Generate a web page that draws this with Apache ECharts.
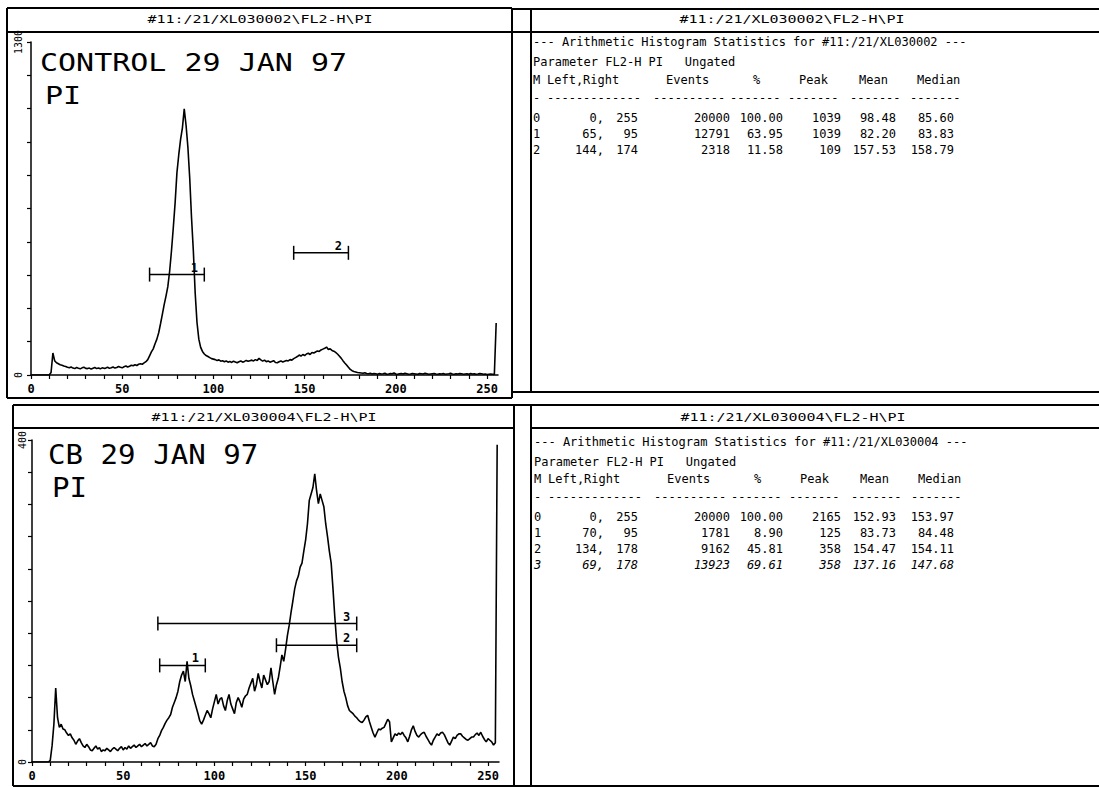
<!DOCTYPE html>
<html><head><meta charset="utf-8">
<script src="https://cdn.jsdelivr.net/npm/echarts@6/dist/echarts.min.js"></script>
<style>html,body{margin:0;padding:0;background:#fff}#c{width:1099px;height:787px}</style>
</head><body><div id="c"></div>
<script>
// ---------------- DATA ----------------
const panelTitles = ['#11:/21/XL030002\\FL2-H\\PI', '#11:/21/XL030004\\FL2-H\\PI'];
const sampleLabels = ['CONTROL 29 JAN 97', 'CB 29 JAN 97'];
const parameterLabel = 'PI';
const statsHeadings = [
  '--- Arithmetic Histogram Statistics for #11:/21/XL030002 ---',
  '--- Arithmetic Histogram Statistics for #11:/21/XL030004 ---'
];
const parameterLine = 'Parameter FL2-H PI   Ungated';
const statColumns = ['M', 'Left,Right', 'Events', '%', 'Peak', 'Mean', 'Median'];
const xTickLabels = [0, 50, 100, 150, 200, 250];
const controlYMax = 1300;
const cbYMax = 400;

// channel 0..255 counts
const controlCounts = [
  0,0,0,0,0,0,0,0,0,0,0,
  10,86,55,48,44,40,38,35,33,30,
  28,31,27,25,29,26,24,28,30,26,
  25,27,23,26,29,25,27,24,28,26,
  27,30,26,28,31,27,29,33,30,28,
  32,35,31,34,38,36,40,37,42,44,
  42,47,52,60,
  75,90,102,122,140,165,200,237,275,308,
  345,405,484,575,672,790,860,920,965,1039,
  975,890,770,614,484,320,205,140,108,92,
  82,76,72,68,64,62,
  60,57,59,54,56,52,55,50,53,49,54,51,48,52,55,50,53,57,54,56,
  58,55,60,57,65,59,54,58,52,55,50,53,56,49,48,52,55,51,54,57,
  55,60,58,64,68,72,78,74,80,76,
  82,85,80,88,86,90,94,92,98,101,
  104,109,100,102,96,93,88,82,74,66,
  56,47,39,30,22,17,14,12,10,9,
  8,7,9,6,5,7,4,6,5,3,
  6,4,5,7,3,4,6,5,8,4,
  3,5,6,4,7,5,3,4,6,5,
  4,3,6,5,4,7,5,3,4,5,
  6,4,3,5,4,6,3,4,5,7,
  4,3,5,4,6,5,3,4,5,3,
  6,4,5,3,4,6,5,3,4,2,
  3,4,3,2,
  203
];
const cbCounts = [
  0,0,0,0,0,0,0,0,0,0,
  2,20,47,92,55,43,47,41,40,36,33,
  35,30,27,22,26,29,24,20,18,22,
  19,15,14,17,20,16,18,13,15,14,
  17,15,13,16,18,16,14,17,19,15,
  18,16,20,17,19,21,18,20,22,19,
  21,23,20,22,24,20,19,22,
  29,33,39,43,48,52,55,59,68,74,80,88,
  100,108,113,100,125,104,95,84,76,68,
  60,51,47,52,58,64,60,55,66,75,
  84,72,78,80,70,64,76,84,72,66,
  60,74,80,75,68,78,82,84,92,98,
  104,88,96,110,100,92,108,102,96,100,
  117,100,84,96,104,118,133,125,140,157,
  170,186,200,215,225,231,242,247,262,276,
  296,325,333,341,358,337,321,333,325,317,
  296,280,262,247,215,180,150,130,117,100,
  88,80,70,64,62,60,57,55,52,50,
  49,52,56,58,50,43,36,31,36,41,
  40,42,43,48,53,50,25,30,35,33,
  36,34,37,33,30,25,32,40,45,38,
  33,31,34,36,37,32,28,24,21,27,
  31,35,33,36,37,34,29,24,21,26,
  31,29,33,35,35,32,30,28,27,29,
  31,31,34,36,33,37,32,28,25,29,
  27,25,21,24,
  394
];

// statistics tables: M, Left, Right, Events, %, Peak, Mean, Median
const controlStats = [
  ['0', '0', '255', '20000', '100.00', '1039', '98.48', '85.60'],
  ['1', '65', '95', '12791', '63.95', '1039', '82.20', '83.83'],
  ['2', '144', '174', '2318', '11.58', '109', '157.53', '158.79']
];
const cbStats = [
  ['0', '0', '255', '20000', '100.00', '2165', '152.93', '153.97'],
  ['1', '70', '95', '1781', '8.90', '125', '83.73', '84.48'],
  ['2', '134', '178', '9162', '45.81', '358', '154.47', '154.11'],
  ['3', '69', '178', '13923', '69.61', '358', '137.16', '147.68']
];
// height (in counts) at which each marker bar (M1, M2, ...) is drawn
const controlMarkerLevels = [392, 477];
const cbMarkerLevels = [120, 145, 172];

// ---------------- LAYOUT ----------------
const MONO = '"DejaVu Sans Mono", monospace';
const INK = '#000';
const G = [
  { left: 31, top: 42, width: 467, height: 333 },
  { left: 32, top: 440, width: 467, height: 322 }
];
const tablePos = [
  { x: 533, head1: 42, param: 62, header: 80, dash: 98, row0: 118, step: 16 },
  { x: 534, head1: 442, param: 462, header: 479, dash: 497, row0: 517, step: 16 }
];
const headerX = [0, 14, 133, 220, 266, 326, 384];   // offsets from table x (left aligned)
const cellRightX = [null, 604, 638, 730, 783, 841, 896, 954];
const dashSegs = [[533, 1], [547, 13], [653, 10], [730, 7], [788, 7], [850, 7], [910, 7]];

function txt(x, y, text, o) {
  o = o || {};
  return {
    type: 'text', x: x, y: y, scaleX: o.scaleX || 1, silent: true, z: 20,
    style: {
      text: text, fill: INK,
      font: (o.italic ? 'italic ' : '') + (o.bold ? 'bold ' : '') + (o.size || 12) + 'px ' + (o.family || MONO),
      textAlign: o.align || 'left', textVerticalAlign: o.va || 'middle', verticalAlign: o.va || 'middle'
    }
  };
}
function seg(x1, y1, x2, y2, lw) {
  return { type: 'line', silent: true, z: 15, shape: { x1: x1, y1: y1, x2: x2, y2: y2 },
    style: { stroke: INK, lineWidth: lw || 2 } };
}
function box(x1, y1, x2, y2) {
  return [seg(x1, y1, x2, y1), seg(x2, y1, x2, y2), seg(x2, y2, x1, y2), seg(x1, y2, x1, y1)];
}

const graphics = [];
// panel frames
graphics.push.apply(graphics, box(7, 8, 512, 398));
graphics.push(seg(7, 32, 512, 32));
graphics.push.apply(graphics, box(13, 405, 514, 786));
graphics.push(seg(13, 428, 514, 428));
// statistics panels (their rules run on to the plot frames)
graphics.push(seg(512, 9, 1099, 9), seg(512, 32, 1099, 32), seg(512, 392, 1099, 392), seg(531, 9, 531, 392));
graphics.push(seg(514, 405, 1099, 405), seg(531, 428, 1099, 428), seg(514, 786, 1099, 786), seg(531, 405, 531, 786));
// panel titles
graphics.push(txt(260, 19, panelTitles[0], { size: 11, scaleX: 1.36, align: 'center' }));
graphics.push(txt(792, 19, panelTitles[0], { size: 11, scaleX: 1.36, align: 'center' }));
graphics.push(txt(264, 417, panelTitles[1], { size: 11, scaleX: 1.36, align: 'center' }));
graphics.push(txt(793, 417, panelTitles[1], { size: 11, scaleX: 1.36, align: 'center' }));
// sample labels
graphics.push(txt(40, 62, sampleLabels[0], { size: 25, scaleX: 1.2 }));
graphics.push(txt(45, 95, parameterLabel, { size: 25, scaleX: 1.2 }));
graphics.push(txt(48, 455, sampleLabels[1], { size: 26, scaleX: 1.12 }));
graphics.push(txt(52, 488, parameterLabel, { size: 26, scaleX: 1.12 }));

// statistics tables
[[controlStats, 0], [cbStats, 1]].forEach(function (pair) {
  const rows = pair[0], p = tablePos[pair[1]];
  graphics.push(txt(p.x, p.head1, statsHeadings[pair[1]]));
  graphics.push(txt(p.x, p.param, parameterLine));
  statColumns.forEach(function (c, i) { graphics.push(txt(p.x + headerX[i], p.header, c)); });
  dashSegs.forEach(function (s) { graphics.push(txt(s[0] + (p.x - 533), p.dash, '-'.repeat(s[1]))); });
  rows.forEach(function (r, ri) {
    const y = p.row0 + ri * p.step;
    const it = ri === 3;
    graphics.push(txt(p.x, y, r[0], { italic: it }));
    graphics.push(txt(cellRightX[1], y, r[1] + ',', { align: 'right', italic: it }));
    for (let k = 2; k < r.length; k++) {
      graphics.push(txt(cellRightX[k], y, r[k], { align: 'right', italic: it }));
    }
  });
});

// ---------------- CHART ----------------
function xAxisFor(gi) {
  return {
    type: 'value', gridIndex: gi, min: 0, max: 256, interval: 10,
    axisLine: { show: true, lineStyle: { color: INK, width: 1.5 } },
    axisTick: { show: true, length: 4, lineStyle: { color: INK, width: 1.2 } },
    splitLine: { show: false },
    axisLabel: {
      color: INK, fontFamily: MONO, fontSize: 12, fontWeight: 'bold', margin: 8,
      showMaxLabel: false,
      formatter: function (v) { return xTickLabels.indexOf(v) >= 0 ? String(v) : ''; }
    }
  };
}
function yAxisFor(gi, max, margin) {
  return {
    type: 'value', gridIndex: gi, min: 0, max: max, interval: max / 10,
    axisLine: { show: true, lineStyle: { color: INK, width: 1.5 } },
    axisTick: { show: true, length: 4, lineStyle: { color: INK, width: 1.2 } },
    splitLine: { show: false },
    axisLabel: {
      color: INK, fontFamily: MONO, fontSize: 10, rotate: 90, margin: margin,
      formatter: function (v) { return (v === 0 || v === max) ? String(v) : ''; }
    }
  };
}
function histSeries(counts, gi) {
  return {
    type: 'line', xAxisIndex: gi, yAxisIndex: gi, showSymbol: false, symbol: 'none',
    animation: false, silent: true,
    lineStyle: { color: INK, width: 1.6 },
    data: counts.map(function (v, i) { return [i, v]; })
  };
}
function markerSeries(stats, levels, gi) {
  const data = stats.slice(1).map(function (r, i) { return [+r[1], +r[2], levels[i], +r[0]]; });
  return {
    type: 'custom', xAxisIndex: gi, yAxisIndex: gi, silent: true, animation: false, z: 5,
    encode: { x: [0, 1], y: 2 },
    data: data,
    renderItem: function (params, api) {
      const l = api.coord([api.value(0), api.value(2)]);
      const r = api.coord([api.value(1), api.value(2)]);
      const h = 7;
      const st = { stroke: INK, lineWidth: 1.5 };
      return {
        type: 'group', children: [
          { type: 'line', shape: { x1: l[0], y1: l[1], x2: r[0], y2: r[1] }, style: st },
          { type: 'line', shape: { x1: l[0], y1: l[1] - h, x2: l[0], y2: l[1] + h }, style: st },
          { type: 'line', shape: { x1: r[0], y1: r[1] - h, x2: r[0], y2: r[1] + h }, style: st },
          { type: 'text', x: r[0] - 10, y: r[1] - 1,
            style: { text: String(api.value(3)), fill: INK, font: 'bold 12px ' + MONO,
              textAlign: 'center', textVerticalAlign: 'bottom', verticalAlign: 'bottom' } }
        ]
      };
    }
  };
}

const chart = echarts.init(document.getElementById('c'), null, { renderer: 'svg', width: 1099, height: 787 });
chart.setOption({
  backgroundColor: '#fff',
  animation: false,
  textStyle: { fontFamily: MONO },
  grid: G.map(function (g) {
    return Object.assign({ containLabel: false, outerBoundsMode: 'none', show: false }, g);
  }),
  xAxis: [xAxisFor(0), xAxisFor(1)],
  yAxis: [yAxisFor(0, controlYMax, 8), yAxisFor(1, cbYMax, 5)],
  series: [
    histSeries(controlCounts, 0),
    histSeries(cbCounts, 1),
    markerSeries(controlStats, controlMarkerLevels, 0),
    markerSeries(cbStats, cbMarkerLevels, 1)
  ],
  graphic: graphics
});
</script>
</body></html>
